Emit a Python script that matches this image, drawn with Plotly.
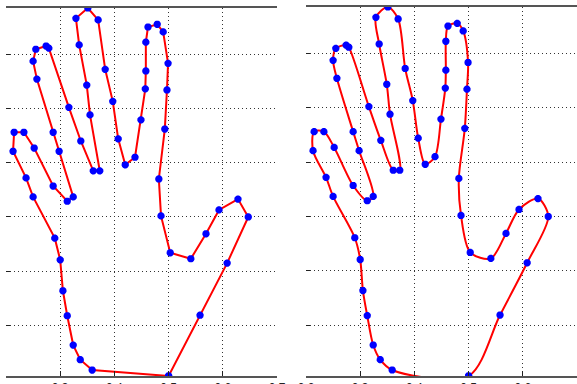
import plotly.graph_objects as go

# Hand outline points (data units), traced in order, closed at the wrist
hand_x = [0.500, 0.359, 0.337, 0.324, 0.313, 0.305, 0.300, 0.290, 0.250, 0.237,
          0.213, 0.215, 0.233, 0.252, 0.287, 0.313, 0.324, 0.298, 0.287, 0.257,
          0.250, 0.255, 0.274, 0.279, 0.316, 0.338, 0.361, 0.373, 0.355, 0.349,
          0.335, 0.329, 0.351, 0.370, 0.383, 0.397, 0.407, 0.420, 0.438, 0.449,
          0.457, 0.458, 0.458, 0.462, 0.479, 0.490, 0.499, 0.497, 0.493, 0.482,
          0.486, 0.503, 0.541, 0.569, 0.593, 0.628, 0.647, 0.608, 0.558, 0.500]
hand_y = [0.107, 0.118, 0.137, 0.164, 0.218, 0.264, 0.321, 0.361, 0.437, 0.472,
          0.521, 0.556, 0.556, 0.527, 0.457, 0.429, 0.437, 0.521, 0.556, 0.654,
          0.687, 0.709, 0.715, 0.711, 0.602, 0.540, 0.485, 0.485, 0.588, 0.643,
          0.717, 0.766, 0.785, 0.763, 0.672, 0.613, 0.544, 0.496, 0.510, 0.579,
          0.636, 0.669, 0.722, 0.750, 0.755, 0.741, 0.683, 0.634, 0.562, 0.470,
          0.402, 0.334, 0.323, 0.369, 0.413, 0.433, 0.400, 0.315, 0.219, 0.107]

x_ticks = [0.2, 0.3, 0.4, 0.5, 0.6, 0.7]
x_tick_labels = ["0.2", "0.3", "0.4", "0.5", "0.6", "0.7"]
y_grid = [0.2, 0.3, 0.4, 0.5, 0.6, 0.7]

W, H = 577, 384
fig = go.Figure()

line_style = dict(color="#ff0000", width=2)
marker_style = dict(symbol="asterisk-open", size=6, color="#0000ff",
                    line=dict(color="#0000ff", width=2.5))

# Left: straight polyline
fig.add_trace(go.Scatter(x=hand_x, y=hand_y, mode="lines", line=line_style,
                         xaxis="x", yaxis="y", showlegend=False, hoverinfo="skip"))
fig.add_trace(go.Scatter(x=hand_x, y=hand_y, mode="markers", marker=marker_style,
                         xaxis="x", yaxis="y", showlegend=False))
# Right: smooth spline
fig.add_trace(go.Scatter(x=hand_x, y=hand_y, mode="lines",
                         line=dict(color="#ff0000", width=2, shape="spline", smoothing=0.85),
                         xaxis="x2", yaxis="y2", showlegend=False, hoverinfo="skip"))
fig.add_trace(go.Scatter(x=hand_x, y=hand_y, mode="markers", marker=marker_style,
                         xaxis="x2", yaxis="y2", showlegend=False))

ymin, ymax = min(hand_y), max(hand_y)

xax = dict(range=[0.2, 0.7], tickvals=x_ticks, ticktext=x_tick_labels,
           showgrid=True, gridcolor="#333333", griddash="1px,3px", gridwidth=1,
           showline=True, linecolor="#555555", linewidth=1.5, mirror=True,
           ticks="inside", ticklen=5, tickcolor="#222222",
           tickfont=dict(family="Liberation Sans", size=12, color="#222222"),
           zeroline=False, fixedrange=True, automargin=False)
yax = dict(range=[ymin, ymax], tickvals=y_grid, showticklabels=False,
           showgrid=True, gridcolor="#333333", griddash="1px,3px", gridwidth=1,
           showline=False, ticks="inside", ticklen=4, tickcolor="#222222",
           zeroline=False, fixedrange=True, automargin=False)

fig.update_layout(
    width=W, height=H,
    margin=dict(l=0, r=0, t=0, b=0, pad=0),
    paper_bgcolor="white", plot_bgcolor="white",
    xaxis=dict(xax, domain=[6 / W, 277 / W], anchor="y"),
    yaxis=dict(yax, domain=[8 / H, 1 - 8 / H], anchor="x"),
    xaxis2=dict(xax, domain=[306 / W, 1.0], anchor="y2"),
    yaxis2=dict(yax, domain=[8 / H, 1 - 7 / H], anchor="x2"),
)

fig.write_html("out.html",
               config={"displayModeBar": False},
               post_script="document.body.style.margin='0';document.body.style.overflow='hidden';")
